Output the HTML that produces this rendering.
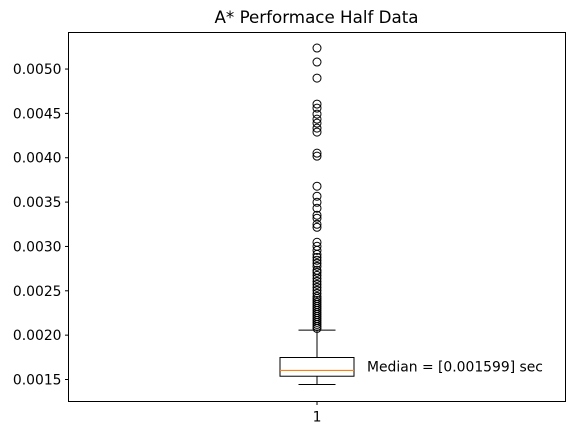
<!DOCTYPE html>
<html><head><meta charset="utf-8"><style>
body{margin:0;background:#fff;font-family:"DejaVu Sans","Liberation Sans",sans-serif}
svg text{font-family:"DejaVu Sans","Liberation Sans",sans-serif;font-size:13.9px}
</style></head><body>
<svg id="c" width="573" height="435">
<rect width="573" height="435" fill="#fff"/>
<text x="316.5" y="23" text-anchor="middle" style="font-size:16.7px">A* Performace Half Data</text>
</svg>
<script>
const yTicks=[0.0015,0.0020,0.0025,0.0030,0.0035,0.0040,0.0045,0.0050];
const yTickLabels=["0.0015","0.0020","0.0025","0.0030","0.0035","0.0040","0.0045","0.0050"];
const categories=["1"];
const q1=[0.001537],q3=[0.001748],median=[0.001602],whiskLo=[0.001444],whiskHi=[0.002057];
const medianLabel=["Median = [0.001599] sec"];
const outliers=[0.005237,0.005079,0.004898,0.004605,0.004560,0.004492,0.004435,0.004390,0.004334,0.004289,0.004052,0.004018,0.003679,0.003566,0.003498,0.003431,0.003352,0.003318,0.003250,0.003216,0.003047,0.003002,0.002956,0.002911,0.002877,0.002844,0.002810,0.002776,0.002731,0.002708,0.002674,0.002640,0.002606,0.002573,0.002539,0.002505,0.002471,0.002437,0.002415,0.002392,0.002369,0.002347,0.002324,0.002302,0.002279,0.002256,0.002234,0.002211,0.002189,0.002166,0.002144,0.002121,0.002098,0.002076];
const L=68.5,R=565.5,T=32.5,B=401.5,yMin=0.001252,yMax=0.005412;
const y=v=>B-(v-yMin)/(yMax-yMin)*(B-T);
const x=i=>L+(i+1)*(R-L)/(categories.length+1);
const svg=document.getElementById('c'),NS='http://www.w3.org/2000/svg';
function mk(t,a,name,txt){const e=document.createElementNS(NS,t);for(const k in a)e.setAttribute(k,a[k]);


if(txt!=null)e.textContent=txt;svg.appendChild(e);return e;}
yTicks.forEach((v,i)=>{mk('line',{x1:L-3.5,x2:L,y1:y(v),y2:y(v),stroke:'#000'},'y-tick');
mk('text',{x:L-7,y:y(v)+5,'text-anchor':'end'},'y-tick-label',yTickLabels[i]);});
categories.forEach((c,i)=>{const cx=x(i),hw=37;
mk('line',{x1:cx,x2:cx,y1:B,y2:B+3.5,stroke:'#000'},'x-tick');
mk('text',{x:cx,y:B+20,'text-anchor':'middle'},'x-tick-label',c);
mk('line',{x1:cx,x2:cx,y1:y(q3[i]),y2:y(whiskHi[i]),stroke:'#000'},'upper-whisker');
mk('line',{x1:cx,x2:cx,y1:y(q1[i]),y2:y(whiskLo[i]),stroke:'#000'},'lower-whisker');
mk('line',{x1:cx-18.5,x2:cx+18.5,y1:y(whiskHi[i]),y2:y(whiskHi[i]),stroke:'#000'},'upper-cap');
mk('line',{x1:cx-18.5,x2:cx+18.5,y1:y(whiskLo[i]),y2:y(whiskLo[i]),stroke:'#000'},'lower-cap');
mk('rect',{x:cx-hw,y:y(q3[i]),width:2*hw,height:y(q1[i])-y(q3[i]),fill:'none',stroke:'#000'},'iqr-box');
mk('line',{x1:cx-hw,x2:cx+hw,y1:y(median[i]),y2:y(median[i]),stroke:'#ff7f0e','stroke-width':1.2},'median-line');
outliers.forEach(v=>mk('circle',{cx:cx,cy:y(v),r:4,fill:'none',stroke:'#000'},'outlier-point'));
mk('text',{x:cx+50,y:y(median[i])+1},'median-annotation',medianLabel[i]);});
mk('rect',{x:L,y:T,width:R-L,height:B-T,fill:'none',stroke:'#000'},'plot-frame');
</script>
</body></html>
